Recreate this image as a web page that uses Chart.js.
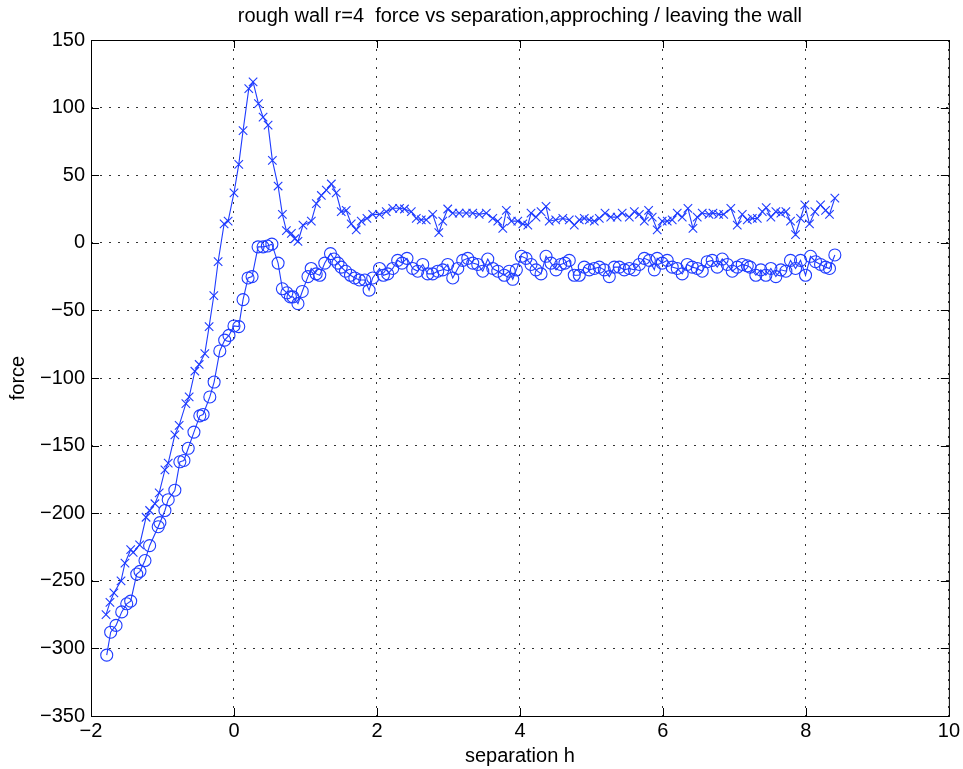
<!DOCTYPE html>
<html>
<head>
<meta charset="utf-8">
<title>rough wall r=4</title>
<script src="https://cdn.jsdelivr.net/npm/chart.js@4/dist/chart.umd.min.js"></script>
<style>
  html, body { margin: 0; padding: 0; background: #fff; }
  #wrap { width: 963px; height: 769px; }
</style>
</head>
<body>
<div id="wrap"><canvas id="forceChart" width="963" height="769"></canvas></div>
<script>
// approaching the wall (x markers)
const approachH = [
  -1.79, -1.735, -1.68, -1.58, -1.525, -1.445, -1.41, -1.32, -1.23, -1.18,
  -1.106, -1.046, -0.966, -0.92, -0.827, -0.767, -0.673, -0.627, -0.547, -0.487,
  -0.408, -0.348, -0.282, -0.222, -0.138, -0.082, 0.0, 0.067, 0.127, 0.207,
  0.267, 0.342, 0.407, 0.477, 0.537, 0.617, 0.677, 0.733, 0.803, 0.85,
  0.895, 0.965, 1.082, 1.152, 1.222, 1.292, 1.362, 1.43, 1.50, 1.57,
  1.64, 1.71, 1.78, 1.86, 1.94, 2.036, 2.13, 2.22, 2.316, 2.385,
  2.48, 2.55, 2.62, 2.69, 2.78, 2.865, 2.92, 2.99, 3.06, 3.15,
  3.25, 3.34, 3.43, 3.53, 3.62, 3.69, 3.76, 3.81, 3.88, 3.97,
  4.04, 4.11, 4.155, 4.225, 4.295, 4.365, 4.41, 4.50, 4.60, 4.69,
  4.76, 4.83, 4.90, 4.97, 5.04, 5.11, 5.19, 5.27, 5.36, 5.43,
  5.53, 5.60, 5.67, 5.74, 5.80, 5.85, 5.92, 5.99, 6.06, 6.13,
  6.20, 6.27, 6.35, 6.42, 6.48, 6.55, 6.645, 6.70, 6.78, 6.85,
  6.95, 7.04, 7.11, 7.18, 7.25, 7.32, 7.39, 7.445, 7.51, 7.58,
  7.65, 7.72, 7.785, 7.855, 7.925, 7.985, 8.05, 8.125, 8.205, 8.275,
  8.33, 8.405
];
const approachF = [
  -275, -266, -259, -250, -237, -227, -229, -223.5, -203, -198,
  -193, -185, -168, -163, -142, -135, -119, -114, -95, -90,
  -82, -62, -39, -14, 14, 16, 37, 58, 83, 114,
  119, 103, 93, 87, 61, 42, 21, 9, 7, 3,
  1, 13, 16, 29, 35, 39, 43.5, 37, 23, 24,
  14, 9.5, 16, 18, 21, 21, 23, 25.5, 25.5, 25,
  23, 18, 17, 17, 21, 7.5, 16, 25, 22, 22,
  22, 22, 21, 22, 18, 16, 10.6, 24, 16, 16,
  14, 13, 22, 19, 23, 27, 16, 17, 18, 17,
  13, 17, 18, 17, 16, 18, 22, 19, 19, 22,
  19, 23, 21, 16, 24, 19, 9.5, 16, 16, 17,
  22, 19, 25.5, 10.6, 19, 22, 21, 22, 21, 21,
  25.5, 13, 21, 17, 18, 18, 23, 26, 19, 23,
  22, 23, 16, 6, 18, 28, 14, 23, 28, 24,
  21, 33
];

// leaving the wall (circle markers)
const leaveH = [
  -1.78, -1.725, -1.65, -1.57, -1.50, -1.445, -1.36, -1.315, -1.245, -1.18,
  -1.06, -1.036, -0.966, -0.92, -0.827, -0.757, -0.70, -0.64, -0.56, -0.478,
  -0.432, -0.338, -0.278, -0.198, -0.13, -0.07, 0.0, 0.067, 0.127, 0.197,
  0.253, 0.337, 0.407, 0.467, 0.53, 0.617, 0.677, 0.74, 0.79, 0.825,
  0.895, 0.955, 1.035, 1.08, 1.15, 1.20, 1.27, 1.35, 1.40, 1.455,
  1.50, 1.56, 1.63, 1.69, 1.755, 1.83, 1.89, 1.94, 2.036, 2.09,
  2.15, 2.22, 2.29, 2.35, 2.42, 2.50, 2.57, 2.64, 2.71, 2.78,
  2.85, 2.92, 2.99, 3.06, 3.13, 3.20, 3.27, 3.34, 3.41, 3.48,
  3.55, 3.62, 3.69, 3.78, 3.85, 3.90, 3.95, 4.02, 4.085, 4.155,
  4.225, 4.295, 4.365, 4.435, 4.505, 4.57, 4.63, 4.69, 4.76, 4.83,
  4.90, 4.97, 5.04, 5.11, 5.18, 5.25, 5.32, 5.39, 5.46, 5.53,
  5.60, 5.67, 5.74, 5.81, 5.88, 5.92, 5.99, 6.06, 6.13, 6.20,
  6.27, 6.34, 6.41, 6.48, 6.55, 6.62, 6.69, 6.76, 6.83, 6.90,
  6.97, 7.04, 7.11, 7.18, 7.22, 7.30, 7.37, 7.44, 7.51, 7.58,
  7.65, 7.72, 7.785, 7.855, 7.925, 7.995, 8.065, 8.135, 8.205, 8.275,
  8.33, 8.405
];
const leaveF = [
  -305, -288, -283, -273, -267, -265, -245, -243, -235, -224,
  -210, -207, -198, -190, -183, -162, -161, -152, -140, -128,
  -127, -114, -103, -80, -72, -68.5, -61.5, -62, -42, -26,
  -25, -3, -3, -2.4, -1, -15, -34, -37, -40, -40,
  -45, -36, -25, -19, -23, -24, -15, -8, -12, -15,
  -18, -21, -24, -26, -27.5, -27.5, -35, -26, -19, -24,
  -23, -19, -13, -15, -11.5, -19, -21, -16, -23, -23,
  -21, -20, -16, -26, -19, -13, -11.5, -15, -16, -21,
  -12, -19, -21, -24, -21, -27, -20, -10, -11.5, -16,
  -20, -23, -10, -15, -20, -16, -15, -13, -24, -24,
  -18, -20, -19, -18, -20, -25, -18, -18, -20, -19,
  -20, -16, -11.5, -13, -20, -11.5, -15, -13, -18, -19,
  -23, -16, -18, -19, -21, -14, -13, -18, -12, -16,
  -21, -18, -16, -17, -18, -24, -20, -24, -19, -25,
  -20, -21, -13, -19, -13, -24, -10, -14, -16, -18,
  -19, -9
];

const xTicks = [-2, 0, 2, 4, 6, 8, 10];
const yTicks = [-350, -300, -250, -200, -150, -100, -50, 0, 50, 100, 150];

const blue = '#1f3cff';
const minus = v => String(v).replace('-', '\u2212');

Chart.defaults.font.family = '"Liberation Sans", Arial, Helvetica, sans-serif';
Chart.defaults.font.size = 20;
Chart.defaults.color = '#000';

// solid axes box plus inward tick marks on all four sides
const boxTicks = {
  id: 'boxTicks',
  afterDraw(chart) {
    const {ctx, chartArea: a, scales: {x, y}} = chart;
    const len = 8;
    ctx.save();
    ctx.strokeStyle = '#000';
    ctx.lineWidth = 1;
    ctx.beginPath();
    xTicks.forEach(v => {
      const px = Math.round(x.getPixelForValue(v)) + 0.5;
      ctx.moveTo(px, a.bottom); ctx.lineTo(px, a.bottom - len);
      ctx.moveTo(px, a.top); ctx.lineTo(px, a.top + len);
    });
    yTicks.forEach(v => {
      const py = Math.round(y.getPixelForValue(v)) + 0.5;
      ctx.moveTo(a.left, py); ctx.lineTo(a.left + len, py);
      ctx.moveTo(a.right, py); ctx.lineTo(a.right - len, py);
    });
    ctx.stroke();
    ctx.strokeRect(a.left + 0.5, a.top + 0.5, a.right - a.left, a.bottom - a.top);
    ctx.restore();
  }
};

new Chart(document.getElementById('forceChart'), {
  type: 'scatter',
  data: {
    datasets: [
      {
        label: 'approaching',
        data: approachH.map((h, i) => ({x: h, y: approachF[i]})),
        showLine: true,
        borderColor: blue,
        borderWidth: 1.1,
        pointStyle: 'crossRot',
        pointRadius: 6,
        pointBorderWidth: 1.1,
        pointBorderColor: blue,
        pointBackgroundColor: 'transparent'
      },
      {
        label: 'leaving',
        data: leaveH.map((h, i) => ({x: h, y: leaveF[i]})),
        showLine: true,
        borderColor: blue,
        borderWidth: 1.1,
        pointStyle: 'circle',
        pointRadius: 6,
        pointBorderWidth: 1.1,
        pointBorderColor: blue,
        pointBackgroundColor: 'transparent'
      }
    ]
  },
  options: {
    responsive: false,
    animation: false,
    layout: { padding: { left: 0, right: 13, top: 0, bottom: 0 } },
    plugins: {
      legend: { display: false },
      tooltip: { enabled: false },
      title: {
        display: true,
        fullSize: false,
        text: 'rough wall r=4  force vs separation,approching / leaving the wall',
        font: { size: 20, weight: 'normal' },
        color: '#000',
        padding: { top: 4, bottom: 12 }
      }
    },
    scales: {
      x: {
        type: 'linear',
        min: -2,
        max: 10,
        afterFit: s => { s.height = 53; },
        afterBuildTicks: s => { s.ticks = xTicks.map(v => ({value: v})); },
        ticks: { padding: 3, callback: minus, maxRotation: 0 },
        grid: { color: '#333', lineWidth: 1, drawTicks: false },
        border: { display: false, dash: [2, 7] },
        title: { display: true, text: 'separation h', padding: { top: 0, bottom: 1 } }
      },
      y: {
        type: 'linear',
        min: -350,
        max: 150,
        afterFit: s => { s.width = 91; },
        afterBuildTicks: s => { s.ticks = yTicks.map(v => ({value: v})); },
        ticks: { padding: 6, callback: minus },
        grid: { color: '#333', lineWidth: 1, drawTicks: false },
        border: { display: false, dash: [2, 7] },
        title: { display: true, text: 'force', padding: { top: 6, bottom: 0 } }
      }
    }
  },
  plugins: [boxTicks]
});
</script>
</body>
</html>
